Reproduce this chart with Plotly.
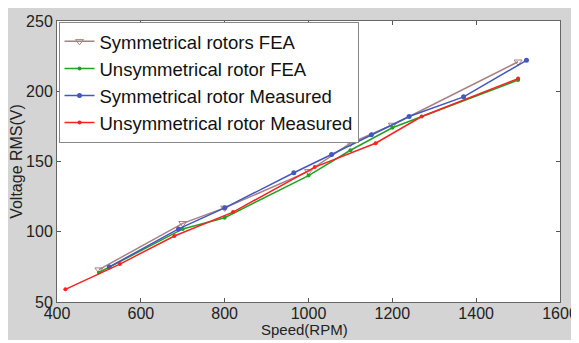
import plotly.graph_objects as go

# Data
sym_fea_x = [500, 700, 800, 1000, 1100, 1200, 1500]
sym_fea_y = [73, 106, 117, 143, 163, 176, 221]
unsym_fea_x = [500, 700, 800, 1000, 1100, 1200, 1500]
unsym_fea_y = [71, 102, 110, 140, 158, 174, 208]
sym_meas_x = [525, 690, 800, 965, 1055, 1150, 1240, 1370, 1520]
sym_meas_y = [75, 102, 117, 142, 155, 169, 182, 196, 222]
unsym_meas_x = [420, 550, 680, 820, 1015, 1160, 1270, 1500]
unsym_meas_y = [59, 77, 97, 114, 146, 163, 182, 209]

x_ticks = [400, 600, 800, 1000, 1200, 1400, 1600]
y_ticks = [50, 100, 150, 200, 250]

FONT = "Liberation Sans, Arial, sans-serif"

fig = go.Figure()
fig.add_trace(go.Scatter(x=sym_fea_x, y=sym_fea_y, mode="lines+markers",
                         name="Symmetrical rotors FEA",
                         line=dict(color="#a88080", width=1.5),
                         marker=dict(symbol="triangle-down-open", size=7, color="#a88080")))
fig.add_trace(go.Scatter(x=unsym_fea_x, y=unsym_fea_y, mode="lines+markers",
                         name="Unsymmetrical rotor FEA",
                         line=dict(color="#22a022", width=1.5),
                         marker=dict(symbol="circle", size=4, color="#22a022")))
fig.add_trace(go.Scatter(x=sym_meas_x, y=sym_meas_y, mode="lines+markers",
                         name="Symmetrical rotor Measured",
                         line=dict(color="#4058c0", width=1.5),
                         marker=dict(symbol="circle", size=5, color="#4058c0")))
fig.add_trace(go.Scatter(x=unsym_meas_x, y=unsym_meas_y, mode="lines+markers",
                         name="Unsymmetrical rotor Measured",
                         line=dict(color="#ff2020", width=1.5),
                         marker=dict(symbol="circle", size=4, color="#ff2020")))

# The page body keeps its default 8px margin, which gives the white frame.
# Figure spans page x 8..579, y 8..340; plot area page x 57..560, y 21..302.
FIG_W, FIG_H = 571, 332
L, R, T, B = 49, 552, 13, 294
PLOT_W, PLOT_H = R - L, B - T

axis_common = dict(showgrid=False, zeroline=False, ticks="inside", ticklen=4,
                   tickcolor="#555", showline=True, linecolor="#666", linewidth=1,
                   mirror="allticks", automargin=False,
                   tickfont=dict(family=FONT, size=16, color="#222"))

fig.update_layout(
    width=FIG_W, height=FIG_H,
    margin=dict(l=L, r=FIG_W - R, t=T, b=FIG_H - B),
    paper_bgcolor="#d4d4d4", plot_bgcolor="white",
    font=dict(family=FONT, color="#222"),
    xaxis=dict(range=[400, 1600], tickvals=x_ticks, ticklabelstandoff=-3,
               **axis_common),
    yaxis=dict(range=[50, 250], tickvals=y_ticks,
               title=dict(text="Voltage RMS(V)", font=dict(family=FONT, size=16), standoff=1),
               **axis_common),
    legend=dict(x=0.003, y=0.997, xanchor="left", yanchor="top",
                bgcolor="white", bordercolor="#888", borderwidth=1,
                font=dict(family=FONT, size=18.5, color="#111"),
                tracegroupgap=0, itemwidth=30),
    showlegend=True,
)

# x-axis title, placed just below the tick labels
fig.add_annotation(text="Speed(RPM)", xref="paper", yref="paper",
                   x=0.493, y=-27.5 / PLOT_H, xanchor="center", yanchor="middle",
                   showarrow=False, font=dict(family=FONT, size=15, color="#222"))

fig.write_html("out.html")
